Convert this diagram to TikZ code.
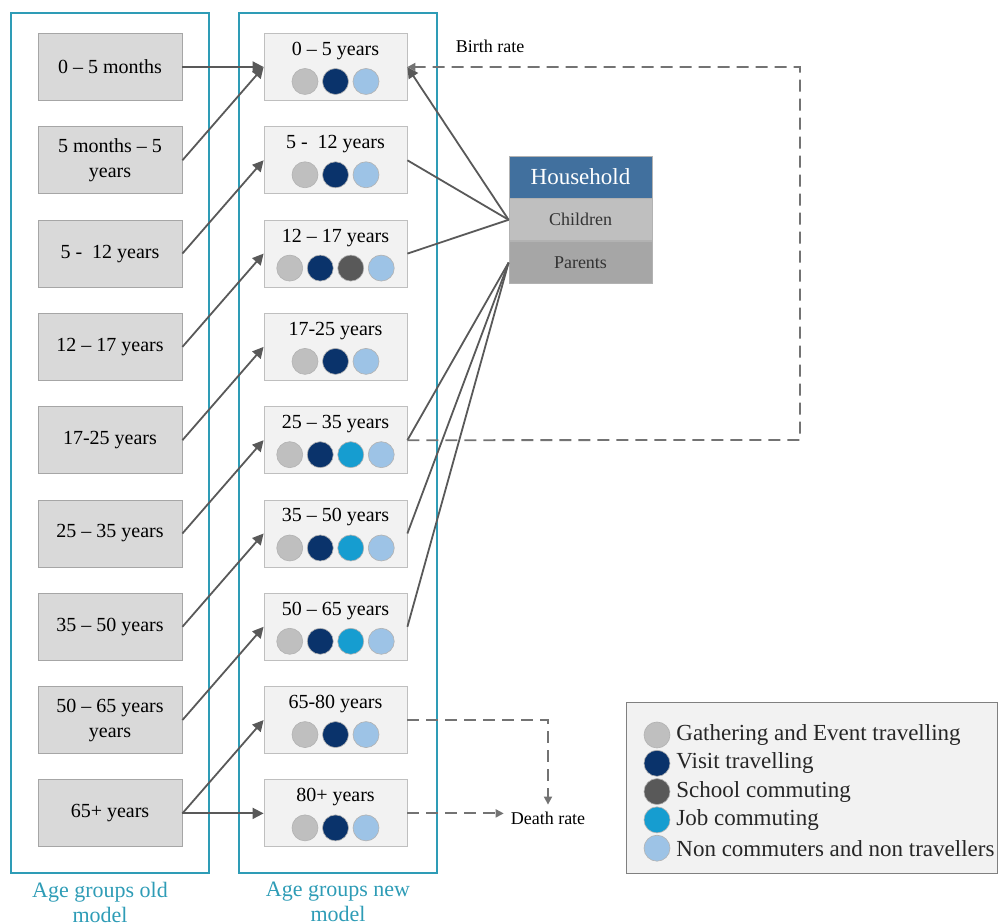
\documentclass[tikz,border=0pt]{standalone}
\usepackage{fontspec}
\setmainfont{Liberation Serif}
\usetikzlibrary{arrows.meta,positioning}
\definecolor{groupteal}{HTML}{2E9CB6}
\definecolor{gatherc}{HTML}{BFBFBF}
\definecolor{visitc}{HTML}{0A336B}
\definecolor{schoolc}{HTML}{595959}
\definecolor{jobc}{HTML}{169DD0}
\definecolor{nonc}{HTML}{9DC3E6}
\definecolor{headblue}{HTML}{41709E}
\definecolor{linegray}{HTML}{595959}

\begin{document}
\begin{tikzpicture}[
            x=0.5pt, y=-0.5pt, % 1 单位 = 1 像素
            groupbox/.style={draw=groupteal, line width=1pt, minimum width=99pt, minimum height=430pt, inner sep=0pt},
            grouplabel/.style={text=groupteal, align=center, font=\fontsize{11}{12.5}\selectfont},
            oldbox/.style={draw=black!35, fill=black!15, minimum width=72pt, minimum height=33.5pt,
                align=center, inner sep=1pt, font=\fontsize{10}{12.5}\selectfont},
            newbox/.style={draw=black!25, fill=black!5, minimum width=71.5pt, minimum height=33.5pt, inner sep=0pt},
            dot/.style={circle, draw=black!30, line width=0.3pt, minimum size=13pt, inner sep=0pt},
            arr/.style={draw=linegray, line width=0.9pt, -{Triangle[length=5.5pt,width=5.5pt]}},
            link/.style={draw=linegray, line width=0.9pt},
            dashline/.style={draw=black!55, line width=0.9pt, dash pattern=on 6pt off 3.5pt,
                -{Triangle[length=4pt,width=4pt]}},
            hhbox/.style={minimum width=71.5pt, minimum height=21pt, inner sep=0pt, draw=black!30,
                font=\fontsize{9}{11}\selectfont, text=black!80}
        ]
        \useasboundingbox (0,0) rectangle (998,924);

        % 两个分组框
        \node[groupbox] (oldgroup) at (110,443) {};
        \node[groupbox] (newgroup) at (338,443) {};
        \node[grouplabel] (oldlbl) at (100,902) {Age groups old\\model};
        \node[grouplabel] (newlbl) at (338,902) {Age groups new\\model};

        % 旧模型
        \foreach \i/\lbl in {
                1/{0 -- 5 months},
                2/{5 months -- 5\\years},
                3/{5 -~ 12 years},
                4/{12 -- 17 years},
                5/{17-25 years},
                6/{25 -- 35 years},
                7/{35 -- 50 years},
                8/{50 -- 65 years\\years},
                9/{65+ years}%
            }{
            \pgfmathsetmacro\yy{67+93.3*(\i-1)}
            \node[oldbox] (old\i) at (110,\yy) {\lbl};
        }

        % 新模型
        \foreach \i/\n/\cols/\lbl in {
                1/3/{gatherc,visitc,nonc}/{0 -- 5 years},
                2/3/{gatherc,visitc,nonc}/{5 -~ 12 years},
                3/4/{gatherc,visitc,schoolc,nonc}/{12 -- 17 years},
                4/3/{gatherc,visitc,nonc}/{17-25 years},
                5/4/{gatherc,visitc,jobc,nonc}/{25 -- 35 years},
                6/4/{gatherc,visitc,jobc,nonc}/{35 -- 50 years},
                7/4/{gatherc,visitc,jobc,nonc}/{50 -- 65 years},
                8/3/{gatherc,visitc,nonc}/{65-80 years},
                9/3/{gatherc,visitc,nonc}/{80+ years}%
            }{
            \pgfmathsetmacro\yy{67+93.3*(\i-1)}
            \node[newbox] (new\i) at (335.5,\yy) {};
            \node[font=\fontsize{10}{12}\selectfont] (newlbl\i) at (335.5,\yy-16) {\lbl};
            \foreach \c [count=\k] in \cols {
                \node[dot, fill=\c] (new\i dot\k) at ({335.5+(\k-(\n+1)/2)*30.5},\yy+14.5) {};
            }
        }

        % 旧 -> 新
        \draw[arr] (old1.east) -- (new1.west);
        \foreach \i in {2,...,9} {
            \pgfmathtruncatemacro\j{\i-1}
            \draw[arr] (old\i.east) -- (new\j.west);
        }
        \draw[arr] (old9.east) -- (new9.west);

        % 家庭
        \node[hhbox, fill=headblue, text=white, font=\fontsize{11.5}{13}\selectfont] (hhead) at (580.5,177) {Household};
        \node[hhbox, fill=black!25, below=0pt of hhead] (hchild) {Children};
        \node[hhbox, fill=black!35, below=0pt of hchild] (hpar) {Parents};

        \draw[arr] (hchild.west) -- (new1.east);
        \foreach \j in {2,3} \draw[link] (hchild.west) -- (new\j.east);
        \foreach \j in {5,6,7} \draw[link] (hpar.west) -- (new\j.east);

        % 出生率 / 死亡率
        \node[font=\fontsize{9}{11}\selectfont] (birth) at (490,46) {Birth rate};
        \coordinate (loopcorner) at (800,440);
        \draw[dashline] (new5.east) -- (loopcorner) |- (new1.east);

        \node[font=\fontsize{9}{11}\selectfont] (death) at (548,818) {Death rate};
        \draw[dashline] (new9.east) -- (new9.east -| death.west);
        \draw[dashline] (new8.east) -| (death.north);

        % 图例
        \node[draw=black!50, fill=black!5, minimum width=185.5pt, minimum height=85.5pt] (legend) at (811.5,787.5) {};
        \foreach \k/\c/\txt in {
                1/gatherc/Gathering and Event travelling,
                2/visitc/Visit travelling,
                3/schoolc/School commuting,
                4/jobc/Job commuting,
                5/nonc/Non commuters and non travellers%
            }{
            \pgfmathsetmacro\yy{735+28.3*(\k-1)}
            \node[dot, fill=\c] (key\k) at (657,\yy) {};
            \node[anchor=west, inner sep=0pt, font=\fontsize{11.5}{13}\selectfont, text=black!85] (keytxt\k) at (676,\yy) {\txt};
        }
        \end{tikzpicture}
\end{document}
